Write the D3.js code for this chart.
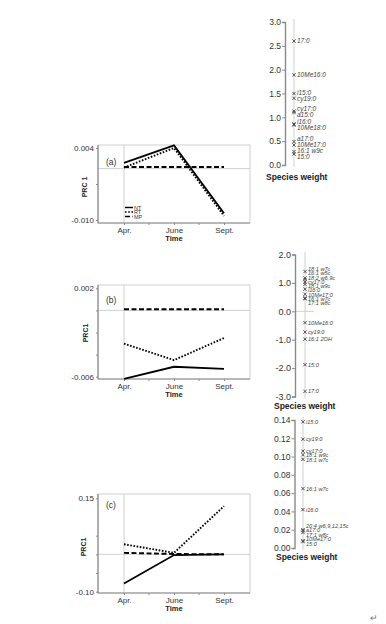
<!DOCTYPE html>
<html>
<head>
<meta charset="utf-8">
<script src="https://cdn.jsdelivr.net/npm/d3@7"></script>
<style>
  body { margin: 0; background: #fff; }
  text { font-family: "Liberation Sans", Arial, sans-serif; }
</style>
</head>
<body>
<svg width="386" height="624"></svg>
<script>
const svg = d3.select("svg");

// ---- data ----
const months = ["Apr.", "June", "Sept."];
const seriesNames = ["NT", "RT", "MP"];

// PRC panel (a)
const aNT = [0.0011, 0.0045, -0.0087];
const aRT = [0.0002, 0.0040, -0.0092];
const aMP = [0.0003, 0.0003, 0.0003];
const aTicks = [0.004, -0.010];
const aMinor = [-0.003];

// PRC panel (b)
const bNT = [-0.0062, -0.0051, -0.0053];
const bRT = [-0.0030, -0.0045, -0.0025];
const bMP = [0.0001, 0.0001, 0.0001];
const bTicks = [0.002, -0.006];
const bMinor = [0.0, -0.002, -0.004];

// PRC panel (c)
const cNT = [-0.078, -0.002, 0.0];
const cRT = [0.027, 0.004, 0.129];
const cMP = [0.004, 0.001, 0.0];
const cTicks = [0.15, -0.10];
const cMinor = [0.05, 0.0, -0.05];

// species weights, panel 1 (a)
const w1Species = ["17:0", "10Me16:0", "i15:0", "cy19:0", "cy17:0", "a15:0", "i16:0", "10Me18:0",
                   "a17:0", "10Me17:0", "16:1 w9c", "15:0"];
const w1Values = [2.6, 1.89, 1.5, 1.4, 1.13, 1.10, 0.86, 0.84, 0.49, 0.42, 0.28, 0.23];
const w1Ticks = [0.0, 0.5, 1.0, 1.5, 2.0, 2.5, 3.0];

// species weights, panel 2 (b)
const w2Species = ["18:1 w7c", "16:1 w5c", "18:2 w6,9c", "cy17:0", "18:1 w9c", "i16:0", "10Me17:0",
                   "16:1 w7c", "17:1 w8c", "10Me16:0", "cy19:0", "16:1 2OH", "15:0", "17:0"];
const w2Values = [1.4, 1.17, 1.12, 1.03, 0.95, 0.78, 0.6, 0.47, 0.44, -0.4, -0.73, -0.98, -1.88, -2.82];
const w2Ticks = [-3.0, -2.0, -1.0, 0.0, 1.0, 2.0];

// species weights, panel 3 (c)
const w3Species = ["i15:0", "cy19:0", "cy17:0", "18:1 w9c", "18:1 w7c", "16:1 w7c", "i16:0",
                   "20:4 w6,9,12,15c", "a17:0", "17:1 w8c", "10Me17:0", "15:0"];
const w3Values = [0.138, 0.119, 0.106, 0.102, 0.097, 0.065, 0.042, 0.020, 0.019, 0.017, 0.008, 0.007];
const w3Ticks = [0.00, 0.02, 0.04, 0.06, 0.08, 0.10, 0.12, 0.14];

const lineStyle = {
  NT: { w: 1.8, dash: null },
  RT: { w: 1.9, dash: "1.6,1.6" },
  MP: { w: 1.9, dash: "5,2.5" }
};

// ---- PRC panels ----
const boxL = 98, boxR = 250;

function prcPanel(o) {
  const x = d3.scalePoint().domain(months).range([boxL, boxR]).padding(0.52);
  const y = d3.scaleLinear().domain(o.domain).range(o.range);
  const g = svg.append("g");

  // reference lines
  g.append("line")
    .attr("x1", boxL).attr("x2", boxR)
    .attr("y1", y(0)).attr("y2", y(0))
    .attr("stroke", "#d0d0d0");
  g.append("line")
    .attr("x1", x(months[0])).attr("x2", x(months[0]))
    .attr("y1", o.top).attr("y2", o.bottom)
    .attr("stroke", "#d0d0d0");

  // frame
  g.append("rect")
    .attr("x", boxL).attr("y", o.top)
    .attr("width", boxR - boxL).attr("height", o.bottom - o.top)
    .attr("fill", "none").attr("stroke", "#cfcfcf");
  g.append("path")
    .attr("d", `M${boxL},${o.top}V${o.bottom}H${boxR}`)
    .attr("fill", "none").attr("stroke", "#8a8a8a").attr("stroke-width", 1.2);

  // y axis
  const ya = g.append("g").attr("transform", `translate(${boxL},0)`)
    .call(d3.axisLeft(y).tickValues(o.ticks).tickSize(2).tickPadding(2)
      .tickFormat(d => d.toFixed(o.dec)));
  const ym = g.append("g").attr("transform", `translate(${boxL},0)`)
    .call(d3.axisLeft(y).tickValues(o.minor).tickSize(2).tickFormat(""));

  // x axis
  const xa = g.append("g").attr("transform", `translate(0,${o.bottom})`)
    .call(d3.axisBottom(x).tickSize(2).tickPadding(2));
  const mids = d3.pairs(months.map(x)).map(([p, q]) => (p + q) / 2);
  g.selectAll(".mid").data(mids).join("line")
    .attr("x1", d => d).attr("x2", d => d)
    .attr("y1", o.bottom).attr("y2", o.bottom + 2)
    .attr("stroke", "#8a8a8a");

  [ya, ym, xa].forEach(a => {
    a.select(".domain").remove();
    a.selectAll("line").attr("stroke", "#8a8a8a");
    a.selectAll("text").attr("font-size", 8).attr("fill", "#333")
      .attr("font-family", "Liberation Sans, Arial, sans-serif");
  });

  // series
  const line = d3.line().x((d, i) => x(months[i])).y(d => y(d));
  ["MP", "RT", "NT"].forEach(name => {
    g.append("path")
      .attr("d", line(o.series[name]))
      .attr("fill", "none")
      .attr("stroke", "#000")
      .attr("stroke-width", lineStyle[name].w)
      .attr("stroke-dasharray", lineStyle[name].dash);
  });

  // labels
  g.append("text").attr("x", 106).attr("y", o.tagY)
    .attr("font-size", 8.5).attr("fill", "#333").text(o.tag);
  g.append("text")
    .attr("transform", `translate(${o.yLabX},${o.yLabY}) rotate(-90)`)
    .attr("text-anchor", "middle").attr("font-size", 7).attr("font-weight", "bold")
    .attr("fill", "#222").text(o.yLabel);
  g.append("text").attr("x", x("June")).attr("y", o.bottom + 18)
    .attr("text-anchor", "middle").attr("font-size", 7.5).attr("font-weight", "bold")
    .attr("fill", "#222").text("Time");

  return { g, x, y };
}

const pa = prcPanel({
  top: 145, bottom: 223, domain: [-0.010, 0.004], range: [220, 148],
  ticks: aTicks, minor: aMinor, dec: 3,
  series: { NT: aNT, RT: aRT, MP: aMP },
  tag: "(a)", tagY: 165, yLabel: "PRC 1", yLabX: 87, yLabY: 187
});

// legend in (a)
const leg = pa.g.append("g");
seriesNames.forEach((name, i) => {
  const ly = 207.5 + i * 4.5;
  leg.append("line").attr("x1", 125).attr("x2", 133).attr("y1", ly).attr("y2", ly)
    .attr("stroke", "#000").attr("stroke-width", lineStyle[name].w * 0.8)
    .attr("stroke-dasharray", lineStyle[name].dash);
  leg.append("text").attr("x", 134).attr("y", ly + 2)
    .attr("font-size", 5.5).attr("fill", "#333").text(name);
});

prcPanel({
  top: 285, bottom: 379, domain: [-0.006, 0.002], range: [376.7, 288.3],
  ticks: bTicks, minor: bMinor, dec: 3,
  series: { NT: bNT, RT: bRT, MP: bMP },
  tag: "(b)", tagY: 303, yLabel: "PRC1", yLabX: 88, yLabY: 333
});

prcPanel({
  top: 494, bottom: 593, domain: [-0.10, 0.15], range: [591.7, 498.3],
  ticks: cTicks, minor: cMinor, dec: 2,
  series: { NT: cNT, RT: cRT, MP: cMP },
  tag: "(c)", tagY: 508, yLabel: "PRC1", yLabX: 86, yLabY: 547
});

// ---- species weight panels ----
function spread(ys, gap) {
  const p = ys.slice();
  for (let it = 0; it < 500; it++) {
    let moved = false;
    for (let i = 1; i < p.length; i++) {
      const d = p[i] - p[i - 1];
      if (d < gap - 0.01) {
        const s = (gap - d) / 2;
        p[i - 1] -= s; p[i] += s; moved = true;
      }
    }
    if (!moved) break;
  }
  return p;
}

function weightPanel(o) {
  const y = d3.scaleLinear().domain(o.domain).range(o.range);
  const g = svg.append("g");

  g.append("line")
    .attr("x1", o.markX).attr("x2", o.markX)
    .attr("y1", o.range[1] - 3).attr("y2", o.range[0] + 2)
    .attr("stroke", "#d0d0d0");
  if (o.zeroLine) {
    g.append("line")
      .attr("x1", o.axisX).attr("x2", o.markX + 9)
      .attr("y1", y(0)).attr("y2", y(0))
      .attr("stroke", "#d0d0d0");
  }

  const ax = g.append("g").attr("transform", `translate(${o.axisX},0)`)
    .call(d3.axisLeft(y).tickValues(o.ticks).tickSize(3).tickPadding(1)
      .tickFormat(d => d.toFixed(o.dec)));
  ax.select(".domain").attr("stroke", "#8a8a8a").attr("stroke-width", 1.4);
  ax.selectAll("line").attr("stroke", "#8a8a8a");
  ax.selectAll("text").attr("font-size", o.tickFont).attr("fill", "#333")
    .attr("font-family", "Liberation Sans, Arial, sans-serif");

  const order = d3.range(o.values.length).sort((a, b) => o.values[b] - o.values[a]);
  const labY = spread(order.map(i => y(o.values[i])), o.gap);

  const s = 1.7;
  order.forEach((idx, k) => {
    const cy = y(o.values[idx]);
    g.append("path")
      .attr("d", `M${o.markX - s},${cy - s}L${o.markX + s},${cy + s}M${o.markX - s},${cy + s}L${o.markX + s},${cy - s}`)
      .attr("stroke", "#444").attr("stroke-width", 0.9);
    g.append("text")
      .attr("x", o.markX + 3).attr("y", labY[k]).attr("dy", "0.35em")
      .attr("font-size", o.labFont).attr("font-style", "italic")
      .attr("fill", "#444").text(o.species[idx]);
  });

  g.append("text").attr("x", o.titleX).attr("y", o.titleY)
    .attr("font-size", 8.5).attr("font-weight", "bold").attr("fill", "#222")
    .text("Species weight");
}

weightPanel({
  domain: [0, 3], range: [165, 22], axisX: 285, markX: 294,
  ticks: w1Ticks, dec: 1, tickFont: 8.5,
  species: w1Species, values: w1Values, labFont: 6.5, gap: 6,
  titleX: 266, titleY: 179.5
});

weightPanel({
  domain: [-3, 2], range: [396.5, 254.5], axisX: 295, markX: 305,
  ticks: w2Ticks, dec: 1, tickFont: 9, zeroLine: true,
  species: w2Species, values: w2Values, labFont: 5.6, gap: 4.3,
  titleX: 274, titleY: 409
});

weightPanel({
  domain: [0, 0.14], range: [548, 420], axisX: 294.5, markX: 303,
  ticks: w3Ticks, dec: 2, tickFont: 8.5,
  species: w3Species, values: w3Values, labFont: 5.6, gap: 4.5,
  titleX: 276, titleY: 560
});

// paragraph mark from the source document
svg.append("text").attr("x", 370).attr("y", 621)
  .attr("font-size", 9).attr("fill", "#777").text("\u21B5");
</script>
</body>
</html>
